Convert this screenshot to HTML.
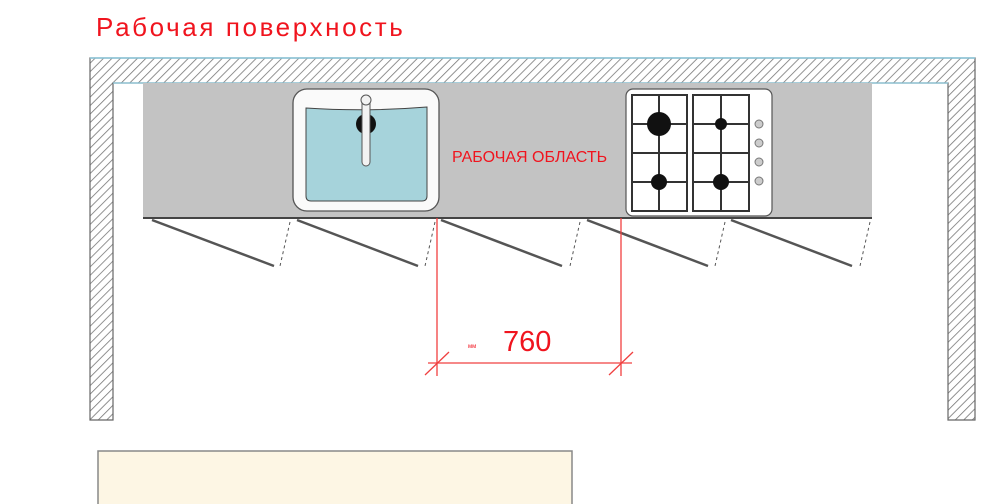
<!DOCTYPE html>
<html><head><meta charset="utf-8"><style>
html,body{margin:0;padding:0;background:#fff;}
svg{display:block;}
</style></head><body>
<svg width="1000" height="504" viewBox="0 0 1000 504" xmlns="http://www.w3.org/2000/svg">
<defs>
<pattern id="h" width="6" height="6" patternUnits="userSpaceOnUse" patternTransform="rotate(45)">
<rect width="6" height="6" fill="#fff"/><line x1="0" y1="0" x2="0" y2="6" stroke="#777" stroke-width="1.6"/>
</pattern>
</defs>
<text x="96" y="36" fill="#f0141e" font-family="Liberation Sans, sans-serif" font-size="26" letter-spacing="2.6">Рабочая поверхность</text>
<!-- walls -->
<path d="M90 58 H975 V420 H948 V83 H113 V420 H90 Z" fill="url(#h)" stroke="#666" stroke-width="1.2"/>
<line x1="90" y1="58" x2="975" y2="58" stroke="#8cc8dc" stroke-width="1.5"/>
<line x1="113" y1="83" x2="948" y2="83" stroke="#8cc8dc" stroke-width="1.2"/>
<!-- countertop -->
<rect x="143" y="83" width="729" height="135" fill="#c3c3c3"/>
<line x1="143" y1="218" x2="872" y2="218" stroke="#444" stroke-width="2"/>
<!-- sink -->
<rect x="293" y="89" width="146" height="122" rx="14" fill="#fafafa" stroke="#555" stroke-width="1.3"/>
<path d="M306 108 Q366 112 427 107 V196 Q427 201 422 201 H311 Q306 201 306 196 Z" fill="#a6d3db" stroke="#444" stroke-width="1"/>
<circle cx="366" cy="124" r="10" fill="#111"/>
<rect x="362" y="96" width="8" height="70" rx="4" fill="#f2f2f2" stroke="#555"/>
<circle cx="366" cy="100" r="5" fill="#f2f2f2" stroke="#555"/>
<text x="452" y="162" fill="#f0141e" font-family="Liberation Sans, sans-serif" font-size="16">РАБОЧАЯ ОБЛАСТЬ</text>
<!-- hob -->
<rect x="626" y="89" width="146" height="127" rx="7" fill="#fff" stroke="#555" stroke-width="1.2"/>
<g stroke="#333" stroke-width="2" fill="none">
<rect x="632" y="95" width="55" height="116"/>
<rect x="693" y="95" width="56" height="116"/>
<line x1="632" y1="153" x2="687" y2="153"/><line x1="693" y1="153" x2="749" y2="153"/>
<line x1="659" y1="95" x2="659" y2="211"/><line x1="721" y1="95" x2="721" y2="211"/>
<line x1="632" y1="124" x2="687" y2="124"/><line x1="693" y1="124" x2="749" y2="124"/>
<line x1="632" y1="182" x2="687" y2="182"/><line x1="693" y1="182" x2="749" y2="182"/>
</g>
<circle cx="659" cy="124" r="12" fill="#111"/>
<circle cx="721" cy="124" r="6" fill="#111"/>
<circle cx="659" cy="182" r="8" fill="#111"/>
<circle cx="721" cy="182" r="8" fill="#111"/>
<g fill="#ccc" stroke="#777"><circle cx="759" cy="124" r="4"/><circle cx="759" cy="143" r="4"/><circle cx="759" cy="162" r="4"/><circle cx="759" cy="181" r="4"/></g>
<!-- doors -->
<g stroke="#555" stroke-width="2.5">
<line x1="152" y1="220" x2="274" y2="266"/><line x1="297" y1="220" x2="418" y2="266"/><line x1="441" y1="220" x2="562" y2="266"/><line x1="587" y1="220" x2="708" y2="266"/><line x1="731" y1="220" x2="852" y2="266"/>
</g>
<g stroke="#555" stroke-width="1" stroke-dasharray="3,3">
<line x1="290" y1="222" x2="280" y2="266"/><line x1="435" y1="222" x2="425" y2="266"/><line x1="580" y1="222" x2="570" y2="266"/><line x1="725" y1="222" x2="715" y2="266"/><line x1="870" y1="222" x2="860" y2="266"/>
</g>
<!-- dimension -->
<g stroke="#f04040" stroke-width="1.3">
<line x1="437" y1="218" x2="437" y2="376"/><line x1="621" y1="218" x2="621" y2="376"/>
<line x1="428" y1="363" x2="632" y2="363"/>
<line x1="425" y1="375" x2="449" y2="352"/><line x1="609" y1="375" x2="633" y2="352"/>
</g>
<text x="503" y="351" fill="#f0141e" font-family="Liberation Sans, sans-serif" font-size="29">760</text>
<text x="468" y="348" fill="#f0141e" font-family="Liberation Sans, sans-serif" font-size="6">мм</text>
<!-- bottom box -->
<rect x="98" y="451" width="474" height="60" fill="#fdf6e4" stroke="#888" stroke-width="1.5"/>
</svg>
</body></html>
